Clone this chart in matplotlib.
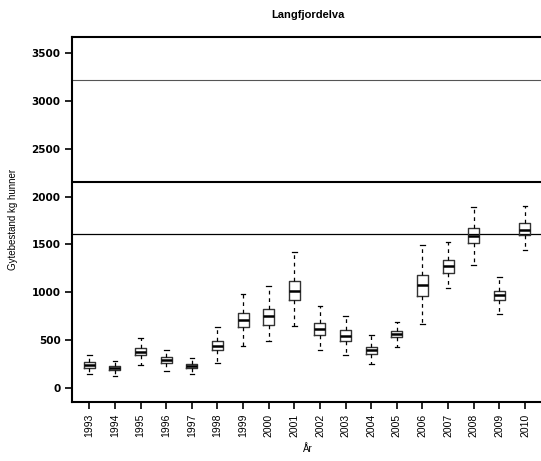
import matplotlib
matplotlib.use("Agg")
import matplotlib.pyplot as plt

years = [str(y) for y in range(1993, 2011)]
whislo = [146, 122, 240, 184, 150, 260, 438, 490, 650, 400, 348, 247, 431, 671, 1042, 1289, 778, 1438]
q1     = [208, 188, 341, 264, 205, 393, 639, 660, 920, 556, 493, 361, 531, 962, 1202, 1515, 924, 1598]
med    = [240, 212, 379, 296, 233, 441, 708, 750, 1011, 618, 549, 400, 566, 1077, 1271, 1591, 976, 1653]
q3     = [271, 229, 417, 323, 257, 497, 781, 830, 1122, 684, 604, 434, 594, 1177, 1337, 1667, 1018, 1723]
whishi = [348, 281, 521, 400, 317, 640, 979, 1063, 1421, 861, 757, 552, 688, 1490, 1521, 1893, 1164, 1906]
ref_lines = [3220, 2150, 1610]
ref_widths = [0.8, 1.5, 0.9]
ref_colors = ['#555555', 'black', 'black']
yticks = [0, 500, 1000, 1500, 2000, 2500, 3000, 3500]

plt.rcParams['font.family'] = ['Liberation Sans', 'DejaVu Sans']

fig = plt.figure(figsize=(5.41, 4.61), dpi=100)
ax = fig.add_axes([0.1325, 0.1273, 1.0045 - 0.1325, 0.9197 - 0.1273])

stats = []
for i in range(len(years)):
    stats.append(dict(whislo=whislo[i], q1=q1[i], med=med[i], q3=q3[i], whishi=whishi[i], fliers=[], label=years[i]))

positions = list(range(1, len(years) + 1))
ax.bxp(stats, positions=positions, widths=0.43, showfliers=False,
       boxprops=dict(color='#333333', linewidth=1.0),
       medianprops=dict(color='black', linewidth=1.8),
       whiskerprops=dict(color='black', linewidth=0.9, linestyle=(0, (3, 3))),
       capprops=dict(color='black', linewidth=0.9),
       capwidths=0.18)

for v, lw, c in zip(ref_lines, ref_widths, ref_colors):
    ax.axhline(v, color=c, linewidth=lw, zorder=0)

ax.set_xlim(0.31, 18.72)
ax.set_ylim(-148, 3665)
ax.set_yticks(yticks)
ax.set_yticklabels([str(t) for t in yticks], fontsize=7.5, fontweight='bold', family='DejaVu Sans')
ax.set_xticks(positions)
ax.set_xticklabels(years, rotation=90, fontsize=7.5)

for s in ['left', 'top', 'bottom']:
    ax.spines[s].set_linewidth(1.5)
ax.spines['right'].set_visible(False)
ax.tick_params(axis='both', length=5, width=1.2, direction='out', pad=3)

ax.set_title('Langfjordelva', fontsize=8, fontweight='bold', pad=14)
ax.set_ylabel('Gytebestand kg hunner', fontsize=7, labelpad=10)
ax.set_xlabel('År', fontsize=7, labelpad=5)

fig.savefig('out.png', dpi=100)
